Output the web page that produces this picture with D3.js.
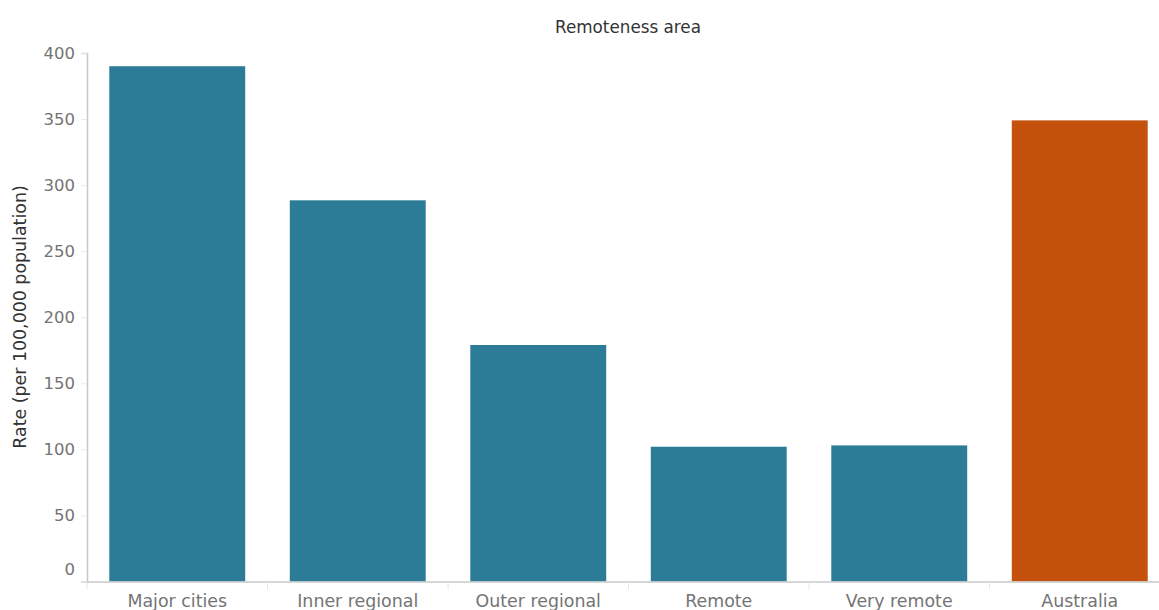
<!DOCTYPE html>
<html>
<head>
<meta charset="utf-8">
<script src="https://cdn.jsdelivr.net/npm/d3@7"></script>
<style>
  body { margin: 0; background: #fff; }
  svg { display: block; font-family: "DejaVu Sans", "Noto Sans", sans-serif; }
</style>
</head>
<body>
<svg id="chart"></svg>
<script>
// --- Data ---
const categories = ["Major cities", "Inner regional", "Outer regional", "Remote", "Very remote", "Australia"];
const rates = [390, 288.5, 179, 102, 103, 349];
const yTicks = [0, 50, 100, 150, 200, 250, 300, 350, 400];

const width = 1159;
const height = 610;
const margin = { left: 87, right: -11, top: 53, bottom: 28 };

const svg = d3.select("#chart")
    .attr("width", width)
    .attr("height", height);

// --- Scales ---
const x = d3.scaleBand()
    .domain(categories)
    .range([margin.left, width - margin.right])
    .paddingInner(0.247)
    .paddingOuter(0.1235);

const y = d3.scaleLinear()
    .domain([0, 400])
    .range([height - margin.bottom - 0.5, margin.top]);

// --- Bars ---
svg.append("g")
    .selectAll("rect")
    .data(categories)
    .join("rect")
    .attr("x", d => x(d))
    .attr("width", x.bandwidth())
    .attr("y", (d, i) => y(rates[i]))
    .attr("height", (d, i) => y(0) - y(rates[i]))
    .attr("fill", d => d === "Australia" ? "#c4510c" : "#2c7c97");

// --- Y axis ---
const yAxis = svg.append("g")
    .attr("transform", `translate(${margin.left},0)`)
    .call(d3.axisLeft(y).tickValues(yTicks).tickSize(6).tickPadding(6));
yAxis.select(".domain").attr("stroke", "#c8c8c8").attr("stroke-width", 1.5);
yAxis.selectAll(".tick line").attr("stroke", "#eaeaea");
yAxis.selectAll(".tick text")
    .attr("fill", "#747474")
    .style("font-family", "'DejaVu Sans', sans-serif")
    .style("font-size", "16.5px")
    .attr("dy", d => d === 0 ? "-0.4em" : "0.32em");

// --- X axis ---
const step = x.step();
const xAxis = svg.append("g")
    .attr("transform", `translate(0,${y(0)})`)
    .call(d3.axisBottom(x).tickSize(0).tickPadding(13));
xAxis.select(".domain").attr("stroke", "#c8c8c8").attr("stroke-width", 1.5);
xAxis.selectAll(".tick text")
    .attr("fill", "#747474")
    .style("font-family", "'DejaVu Sans', sans-serif")
    .style("font-size", "17.4px");

// separators between categories
svg.append("g")
    .selectAll("line")
    .data(categories)
    .join("line")
    .attr("x1", d => x(d) - step * x.paddingInner() / 2)
    .attr("x2", d => x(d) - step * x.paddingInner() / 2)
    .attr("y1", y(0) + 1)
    .attr("y2", y(0) + 8)
    .attr("stroke", "#e6e6e6");

// --- Titles ---
svg.append("text")
    .attr("x", 628)
    .attr("y", 33)
    .attr("text-anchor", "middle")
    .attr("fill", "#333")
    .style("font-size", "16.8px")
    .text("Remoteness area");

svg.append("text")
    .attr("transform", "translate(26,317) rotate(-90)")
    .attr("text-anchor", "middle")
    .attr("fill", "#333")
    .style("font-size", "17.4px")
    .style("font-weight", "500")
    .text("Rate (per 100,000 population)");
</script>
</body>
</html>
